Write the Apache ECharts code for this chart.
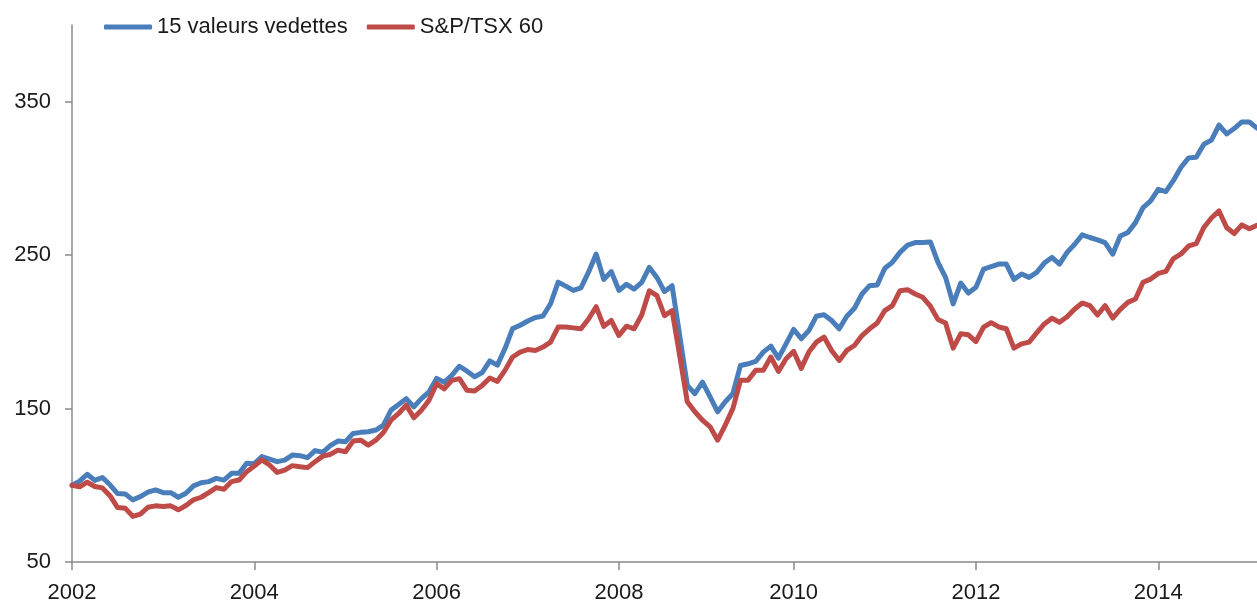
<!DOCTYPE html>
<html>
<head>
<meta charset="utf-8">
<script src="https://cdn.jsdelivr.net/npm/echarts@6/dist/echarts.min.js"></script>
<style>
html,body{margin:0;padding:0;background:#fff;}
#chart{width:1257px;height:604px;}
</style>
</head>
<body>
<div id="chart"></div>
<script>
// Series names
const seriesNames = ['15 valeurs vedettes', 'S&P/TSX 60'];

// Index values (base 100), one point per period from 2002 onward
const vedettes = [
100,102.7,107.2,103.2,105.1,100.3,94.6,94.4,90.5,92.6,95.5,97.0,
95.2,95.2,92.2,94.8,99.6,101.7,102.4,104.5,103.4,107.8,107.8,114.3,
114.1,118.7,117.1,115.4,116.4,119.7,119.3,118.0,122.6,121.5,125.8,128.8,
128.4,133.8,134.5,134.9,136.0,139.2,149.0,152.6,156.5,151.1,156.5,160.8,
169.7,167.1,171.7,177.6,174.4,170.7,173.5,181.1,178.3,189.1,202.1,204.3,
207.1,209.3,210.3,218.3,232.4,229.8,227.0,228.7,238.9,250.7,234.2,239.3,
227.0,231.0,227.9,232.3,242.0,235.5,226.2,230.1,197.6,165.1,159.7,167.3,
157.6,147.9,154.4,159.7,178.1,179.2,180.7,186.8,190.7,182.9,192.2,201.6,
195.5,200.8,210.2,211.2,207.4,202.0,210.2,215.4,224.7,230.1,230.5,241.4,
245.3,251.8,256.5,258.2,258.2,258.6,245.3,235.5,218.2,231.8,225.3,229.0,
240.9,242.5,244.2,244.2,234.2,237.7,235.5,238.8,244.8,248.5,244.2,251.8,
257.1,263.2,261.5,260.0,258.2,250.6,262.5,264.7,271.2,281.0,285.3,292.9,
291.4,298.7,307.3,313.4,313.8,322.3,325.0,334.8,329.0,332.5,336.8,336.8,
332.8
];

const tsx60 = [
100,99.0,102.0,99.2,98.3,93.2,85.5,85.1,79.7,81.2,85.7,86.6,
86.2,86.6,84.0,86.8,90.5,92.2,95.2,98.5,97.4,102.4,103.4,108.9,
112.6,116.6,113.2,108.4,109.9,112.8,112.1,111.5,115.4,119.0,120.1,122.9,
121.9,128.8,129.4,126.2,129.4,134.4,142.4,146.8,152.2,144.0,148.9,155.4,
166.2,162.8,168.4,169.5,161.9,161.5,165.1,169.9,167.7,174.9,183.6,186.8,
188.5,187.9,190.1,193.3,203.1,203.1,202.6,202.0,208.4,216.4,203.6,207.4,
197.6,203.7,202.0,211.0,226.8,223.6,210.6,213.8,184.6,154.4,147.9,142.4,
138.1,129.4,139.2,150.0,168.4,168.4,174.9,174.9,183.6,174.2,182.5,187.3,
176.2,186.8,193.3,196.6,187.9,181.4,187.9,191.1,197.6,202.0,205.8,213.8,
217.1,226.8,227.5,224.7,222.5,216.7,208.0,205.8,189.4,198.7,198.1,193.7,
203.1,206.0,203.2,202.0,189.4,192.2,193.3,199.4,205.2,208.9,206.3,209.9,
214.9,218.8,217.1,211.0,217.1,209.0,214.7,219.2,221.4,232.3,234.4,238.1,
239.4,247.8,250.8,256.0,257.5,268.0,274.2,278.8,268.0,264.1,269.7,267.2,
269.5
];

// Category slots (one per observation) and the year tick labels
const categories = vedettes.map((_, i) => String(i));
const yearTickIndex = [0, 24, 48, 72, 95, 119, 143];
const yearTickLabels = ['2002', '2004', '2006', '2008', '2010', '2012', '2014'];
const yTickValues = [50, 150, 250, 350];

const FONT = '"Liberation Sans", Arial, sans-serif';
const AXIS_COLOR = '#8a8a8a';

const chart = echarts.init(document.getElementById('chart'), null, {renderer: 'canvas'});
chart.setOption({
  animation: false,
  backgroundColor: '#ffffff',
  textStyle: {fontFamily: FONT},
  legend: {
    left: 104,
    top: 16,
    padding: 0,
    icon: 'roundRect',
    itemWidth: 48,
    itemHeight: 5,
    itemGap: 19,
    textStyle: {fontFamily: FONT, fontSize: 22, color: '#1a1a1a'},
    data: seriesNames
  },
  grid: {left: 72, right: 0, top: 25, bottom: 40, containLabel: false},
  xAxis: {
    type: 'category',
    data: categories,
    boundaryGap: false,
    axisLine: {lineStyle: {color: AXIS_COLOR, width: 1.5}},
    axisTick: {
      show: true,
      inside: false,
      length: 8,
      lineStyle: {color: AXIS_COLOR, width: 1.5},
      interval: (idx) => yearTickIndex.indexOf(idx) >= 0
    },
    axisLabel: {
      interval: (idx) => yearTickIndex.indexOf(idx) >= 0,
      formatter: (val, idx) => {
        const k = yearTickIndex.indexOf(idx);
        return k >= 0 ? yearTickLabels[k] : '';
      },
      fontFamily: FONT,
      fontSize: 22,
      color: '#1a1a1a',
      margin: 20,
      hideOverlap: false
    },
    splitLine: {show: false}
  },
  yAxis: {
    type: 'value',
    min: 50,
    max: 400,
    interval: 100,
    axisLine: {show: true, lineStyle: {color: AXIS_COLOR, width: 1.5}},
    axisTick: {
      show: true,
      length: 7,
      lineStyle: {color: AXIS_COLOR, width: 1.5},
      customValues: yTickValues
    },
    axisLabel: {
      customValues: yTickValues,
      fontFamily: FONT,
      fontSize: 22,
      color: '#1a1a1a',
      margin: 21
    },
    splitLine: {show: false}
  },
  series: [
    {
      name: seriesNames[0],
      type: 'line',
      data: vedettes,
      showSymbol: false,
      symbol: 'none',
      color: '#4A7EBB',
      lineStyle: {color: '#4A7EBB', width: 5, cap: 'round', join: 'round'}
    },
    {
      name: seriesNames[1],
      type: 'line',
      data: tsx60,
      showSymbol: false,
      symbol: 'none',
      color: '#BE4B48',
      lineStyle: {color: '#BE4B48', width: 5, cap: 'round', join: 'round'}
    }
  ]
});
</script>
</body>
</html>
